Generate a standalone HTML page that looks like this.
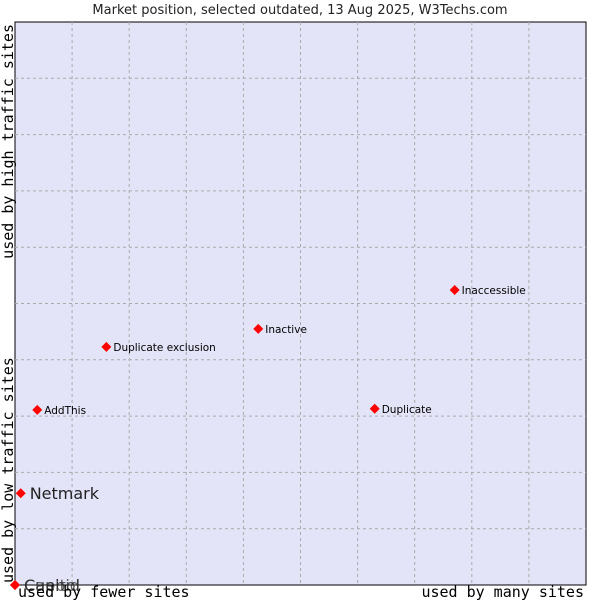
<!DOCTYPE html>
<html><head><meta charset="utf-8"><style>
body{margin:0;background:#fff;width:600px;height:600px;overflow:hidden}
svg text{font-family:"DejaVu Sans","Liberation Sans",sans-serif}
.mono{font-family:"DejaVu Sans Mono","Liberation Mono",monospace}
</style></head><body>
<svg id="chart" width="600" height="600" xmlns="http://www.w3.org/2000/svg">
<text x="300" y="14" text-anchor="middle" font-size="13" fill="#222">Market position, selected outdated, 13 Aug 2025, W3Techs.com</text>
<rect x="15" y="22" width="571" height="563" fill="#e3e4f8" stroke="#000" stroke-width="1"/>
<g id="grid"></g>
<g id="points"></g>
<text class="mono" x="18" y="597" font-size="15" fill="#000">used by fewer sites</text>
<text class="mono" x="584" y="597" font-size="15" fill="#000" text-anchor="end">used by many sites</text>
<text class="mono" transform="translate(13,583) rotate(-90)" font-size="15" fill="#000">used by low traffic sites</text>
<text class="mono" transform="translate(13,24) rotate(-90)" font-size="15" fill="#000" text-anchor="end">used by high traffic sites</text>
</svg>
<script>
const names=["Cuebid","Capitol","Netmark","AddThis","Duplicate exclusion","Inactive","Duplicate","Inaccessible"];
const xValues=[0,0,0.1,0.39,1.6,4.26,6.3,7.7];
const yValues=[0,0,1.63,3.11,4.23,4.55,3.13,5.24];
const big=[true,true,true,false,false,false,false,false];
const L=15,R=586,T=22,B=585;
const sx=v=>L+v*(R-L)/10, sy=v=>B-v*(B-T)/10;
const ns="http://www.w3.org/2000/svg";
const grid=document.getElementById('grid');
for(let i=1;i<10;i++){
  const v=document.createElementNS(ns,'line');
  
  
  v.setAttribute('x1',sx(i));v.setAttribute('x2',sx(i));v.setAttribute('y1',T);v.setAttribute('y2',B);
  v.setAttribute('stroke','#aaa');v.setAttribute('stroke-dasharray','3,3');grid.appendChild(v);
  const h=document.createElementNS(ns,'line');
  
  
  h.setAttribute('x1',L);h.setAttribute('x2',R);h.setAttribute('y1',sy(i));h.setAttribute('y2',sy(i));
  h.setAttribute('stroke','#aaa');h.setAttribute('stroke-dasharray','3,3');grid.appendChild(h);
}
const pts=document.getElementById('points');
names.forEach((n,i)=>{
  const x=sx(xValues[i]),y=sy(yValues[i]);
  const d=document.createElementNS(ns,'polygon');
  
  
  d.setAttribute('points',`${x},${y-5} ${x+5},${y} ${x},${y+5} ${x-5},${y}`);
  d.setAttribute('fill','#f00');pts.appendChild(d);
  const t=document.createElementNS(ns,'text');
  
  
  t.setAttribute('x',x+(big[i]?9:7));t.setAttribute('y',y+(big[i]?6:4));
  t.setAttribute('font-size',big[i]?16:10.5);t.setAttribute('fill',big[i]?'#222':'#000');
  if(big[i]&&yValues[i]===0)t.setAttribute('fill-opacity','0.7');
  t.textContent=n;pts.appendChild(t);
});
</script>
</body></html>
